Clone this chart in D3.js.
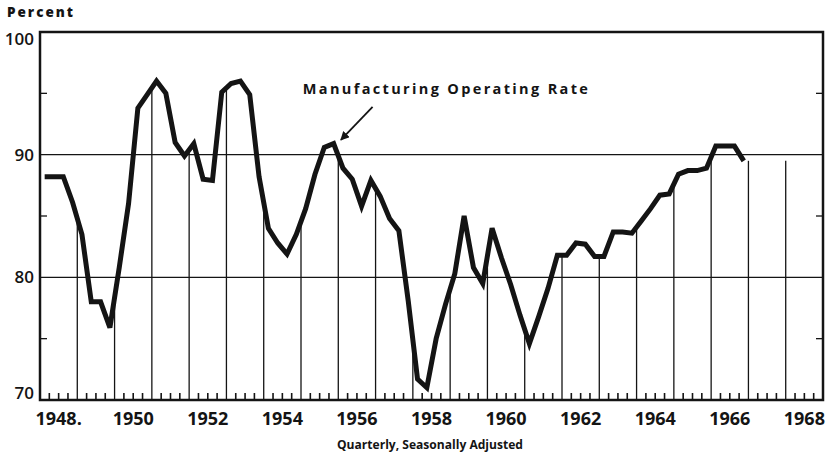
<!DOCTYPE html>
<html>
<head>
<meta charset="utf-8">
<script src="https://cdn.jsdelivr.net/npm/d3@7"></script>
<style>
  body { margin: 0; background: #fff; }
  svg { display: block; }
</style>
</head>
<body>
<div id="chart"></div>
<script>
// quarterly manufacturing operating rate, 1948 Q1 .. 1966 Q4
const years = d3.range(1948, 1967)
const rate = [
  88.2, 88.2, 88.2, 86.1,
  83.5, 78.0, 78.0, 75.9,
  80.8, 86.0, 93.8, 94.9,
  96.0, 95.0, 91.0, 89.9,
  90.9, 88.0, 87.9, 95.1,
  95.8, 96.0, 94.9, 88.2,
  84.0, 82.8, 81.9, 83.5,
  85.6, 88.4, 90.6, 90.9,
  88.9, 88.0, 85.8, 87.9,
  86.6, 84.8, 83.8, 78.1,
  71.7, 71.0, 75.0, 77.8,
  80.3, 85.0, 80.8, 79.5,
  84.0, 81.6, 79.4, 76.9,
  74.6, 76.8, 79.1, 81.8,
  81.8, 82.8, 82.7, 81.7,
  81.7, 83.7, 83.7, 83.6,
  84.6, 85.6, 86.7, 86.8,
  88.4, 88.7, 88.7, 88.9,
  90.7, 90.7, 90.7, 89.5
]
const yTicks = [100, 90, 80, 70]
const yGrid = [90, 80]
const yMinor = [95, 85, 75]
const xLabels = [1948, 1950, 1952, 1954, 1956, 1958, 1960, 1962, 1964, 1966, 1968]

const width = 832
const height = 458

const svg = d3.select("#chart")
  .append("svg")
  .attr("width", width)
  .attr("height", height)
  .attr("viewBox", `0 0 ${width} ${height}`)

const ink = "#141414"

//scales
const x = d3.scaleLinear()
  .domain([1948, 1969])
  .range([40, 823])

const y = d3.scaleLinear()
  .domain([70, 100])
  .range([400, 32])

// put each quarter at its middle
const data = rate.map((v, i) => ({
  t: years[0] + Math.floor(i / 4) + ((i % 4) + 0.5) / 4,
  v: v
}))

// value of the curve at any time, used for the year fences
const curveAt = d3.scaleLinear()
  .domain(data.map(d => d.t))
  .range(data.map(d => d.v))
  .clamp(true)

//horizontal grid
svg.append("g")
  .selectAll("line")
  .data(yGrid)
  .join("line")
  .attr("x1", x(1948))
  .attr("x2", x(1969))
  .attr("y1", d => y(d))
  .attr("y2", d => y(d))
  .attr("stroke", ink)
  .attr("stroke-width", 1.3)

//year lines, from the curve down to the axis
const yearLines = d3.range(1949, 1969)
svg.append("g")
  .selectAll("line")
  .data(yearLines)
  .join("line")
  .attr("x1", d => x(d))
  .attr("x2", d => x(d))
  .attr("y1", d => y(curveAt(d)))
  .attr("y2", y(70))
  .attr("stroke", ink)
  .attr("stroke-width", 1.3)

//quarter ticks along the bottom
const quarterTicks = d3.range(1948, 1969).flatMap(yr => [0.25, 0.5, 0.75].map(q => yr + q))
svg.append("g")
  .selectAll("line")
  .data(quarterTicks)
  .join("line")
  .attr("x1", d => x(d))
  .attr("x2", d => x(d))
  .attr("y1", y(70))
  .attr("y2", y(70) - 7)
  .attr("stroke", ink)
  .attr("stroke-width", 1.6)

//minor ticks on both sides
svg.append("g")
  .selectAll("line")
  .data(yMinor.flatMap(v => [{ v: v, side: 0 }, { v: v, side: 1 }]))
  .join("line")
  .attr("x1", d => d.side ? x(1969) : x(1948))
  .attr("x2", d => d.side ? x(1969) - 7 : x(1948) + 7)
  .attr("y1", d => y(d.v))
  .attr("y2", d => y(d.v))
  .attr("stroke", ink)
  .attr("stroke-width", 1.3)

//frame
svg.append("rect")
  .attr("x", x(1948))
  .attr("y", y(100))
  .attr("width", x(1969) - x(1948))
  .attr("height", y(70) - y(100))
  .attr("fill", "none")
  .attr("stroke", ink)
  .attr("stroke-width", 2.5)

//draw line
const line = d3.line()
  .x(d => x(d.t))
  .y(d => y(d.v))

svg.append("path")
  .datum(data)
  .attr("d", line)
  .attr("fill", "none")
  .attr("stroke", ink)
  .attr("stroke-width", 5)
  .attr("stroke-linejoin", "miter")

//y labels, kept inside the frame at the ends
svg.append("g")
  .selectAll("text")
  .data(yTicks)
  .join("text")
  .attr("x", 34)
  .attr("y", d => Math.min(Math.max(y(d), y(100) + 6.5), y(70) - 7.5))
  .attr("dy", "0.36em")
  .attr("text-anchor", "end")
  .style("font-family", "'Open Sans', sans-serif")
  .style("font-size", "17px")
  .style("font-weight", 600)
  .style("fill", ink)
  .text(d => d)

//x labels, centred in their year
svg.append("g")
  .selectAll("text")
  .data(xLabels)
  .join("text")
  .attr("x", d => x(d + 0.5))
  .attr("y", 425)
  .attr("text-anchor", "middle")
  .style("font-family", "'Open Sans', sans-serif")
  .style("font-size", "18px")
  .style("font-weight", 700)
  .style("fill", ink)
  .text(d => d === 1948 ? d + "." : d)

//titles
svg.append("text")
  .attr("x", 7)
  .attr("y", 17)
  .attr("textLength", 66)
  .attr("lengthAdjust", "spacing")
  .style("font-family", "'Open Sans', sans-serif")
  .style("font-size", "13.5px")
  .style("font-weight", 800)
  .style("fill", ink)
  .text("Percent")

svg.append("text")
  .attr("x", 430)
  .attr("y", 449)
  .attr("text-anchor", "middle")
  .attr("textLength", 186)
  .attr("lengthAdjust", "spacingAndGlyphs")
  .style("font-family", "'Open Sans', sans-serif")
  .style("font-size", "11.5px")
  .style("font-weight", 700)
  .style("fill", ink)
  .text("Quarterly, Seasonally Adjusted")

//series annotation with arrow
svg.append("defs")
  .append("marker")
  .attr("id", "head")
  .attr("viewBox", "0 0 10 10")
  .attr("refX", 9)
  .attr("refY", 5)
  .attr("markerWidth", 9)
  .attr("markerHeight", 9)
  .attr("markerUnits", "userSpaceOnUse")
  .attr("orient", "auto")
  .append("path")
  .attr("d", "M0,0L10,5L0,10z")
  .attr("fill", ink)

svg.append("line")
  .attr("x1", x(1956.92))
  .attr("y1", y(93.9))
  .attr("x2", x(1956.07))
  .attr("y2", y(91.2))
  .attr("stroke", ink)
  .attr("stroke-width", 1.8)
  .attr("marker-end", "url(#head)")

svg.append("text")
  .attr("x", x(1955.05))
  .attr("y", 94)
  .attr("textLength", 285)
  .attr("lengthAdjust", "spacing")
  .style("font-family", "'Open Sans', sans-serif")
  .style("font-size", "14.5px")
  .style("font-weight", 700)
  .style("fill", ink)
  .text("Manufacturing Operating Rate")
</script>
</body>
</html>
